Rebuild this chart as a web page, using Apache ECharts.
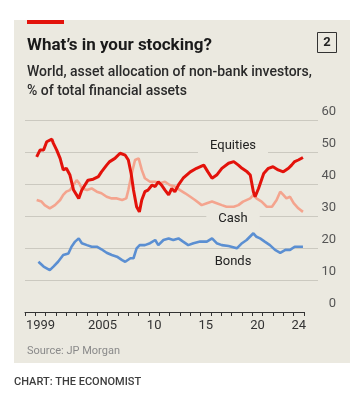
<!DOCTYPE html>
<html>
<head>
<meta charset="utf-8">
<script src="https://cdn.jsdelivr.net/npm/echarts@6/dist/echarts.min.js"></script>
<style>
html,body{margin:0;padding:0;background:#fff;}
#c{width:364px;height:404px;}
</style>
</head>
<body>
<div id="c"></div>
<script>
// ---- data ----
const yearCategories = ['1998','1999','2000','2001','2002','2003','2004','2005','2006','2007','2008','2009','2010','2011','2012','2013','2014','2015','2016','2017','2018','2019','2020','2021','2022','2023','2024'];
const tickYears  = ['1999','2005','2010','2015','2020','2024'];
const tickLabels = ['1999','2005','10','15','20','24'];
const yTicks = [0,10,20,30,40,50,60];

const equitiesYears = [1999.13,1999.45,1999.8,2000.1,2000.6,2000.75,2001.07,2001.4,2001.7,2002.0,2002.35,2002.7,2003.2,2003.5,2003.8,2004.1,2004.6,2005.1,2005.4,2005.9,2006.2,2006.7,2007.2,2007.7,2008.0,2008.27,2008.5,2008.8,2009.07,2009.3,2009.6,2009.9,2010.3,2010.6,2010.9,2011.2,2011.55,2011.9,2012.2,2012.5,2012.85,2013.3,2014.0,2014.6,2015.3,2015.7,2016.1,2016.55,2017.05,2017.7,2018.2,2018.65,2019.0,2019.5,2019.8,2020.1,2020.27,2020.6,2021.1,2021.55,2022.0,2022.5,2023.0,2023.5,2023.8,2024.1,2024.45,2024.9];
const equitiesValues = [48.5,50.6,50.6,53.2,54.0,52.7,50.6,48.0,44.4,44.9,42.8,38.1,35.5,38.1,39.7,41.2,41.5,42.3,43.8,45.9,47.0,48.0,49.6,49.0,47.5,43.3,38.1,32.9,31.3,35.0,37.6,38.1,39.7,39.2,40.7,39.7,38.1,36.6,38.6,37.6,39.7,41.8,43.8,44.9,45.9,43.8,41.8,42.8,44.9,46.5,47.0,45.9,44.9,43.8,42.8,37.6,36.0,38.6,43.3,44.9,45.4,44.4,43.8,44.9,45.9,47.0,47.5,48.3];

const cashYears = [1999.13,1999.6,1999.9,2000.4,2000.9,2001.4,2001.7,2002.0,2002.35,2002.7,2003.0,2003.25,2003.5,2004.0,2004.45,2004.95,2005.4,2005.9,2006.4,2006.9,2007.4,2007.8,2008.0,2008.33,2008.65,2009.0,2009.3,2009.6,2010.1,2010.6,2011.05,2011.55,2012.0,2012.5,2013.0,2013.5,2014.0,2014.45,2015.1,2015.6,2016.1,2016.55,2017.05,2017.5,2018.2,2018.65,2019.1,2019.8,2020.1,2020.4,2020.9,2021.4,2021.9,2022.35,2022.7,2023.0,2023.3,2023.65,2024.0,2024.45,2024.9];
const cashValues = [35.0,34.5,33.4,32.4,33.4,35.0,36.6,37.6,38.1,39.7,41.2,40.2,38.6,38.1,38.6,37.6,37.1,36.0,35.5,35.5,35.0,35.5,38.1,43.3,47.5,48.0,44.4,41.8,40.7,40.7,40.2,40.7,39.7,39.2,38.1,37.1,36.0,35.0,33.4,34.0,34.5,34.0,33.4,32.9,32.9,33.4,34.5,35.5,36.6,35.5,34.5,32.9,32.9,35.0,37.6,36.6,35.5,36.0,34.0,32.4,31.3];

const bondsYears = [1999.3,1999.8,2000.4,2000.75,2001.2,2001.7,2002.2,2002.5,2002.85,2003.2,2003.5,2004.0,2004.45,2004.95,2005.4,2005.9,2006.4,2006.9,2007.4,2007.7,2008.2,2008.5,2008.8,2009.1,2009.6,2010.1,2010.6,2010.9,2011.4,2011.9,2012.35,2012.85,2013.3,2013.8,2014.3,2014.95,2015.6,2016.1,2016.55,2017.05,2017.7,2018.5,2019.0,2019.45,2020.1,2020.4,2020.75,2021.2,2021.7,2022.2,2022.7,2023.2,2023.65,2024.1,2024.9];
const bondsValues = [15.7,14.2,13.1,14.2,15.7,17.8,18.3,20.4,22.0,23.0,21.5,20.9,20.4,20.4,19.6,18.5,17.8,17.3,16.2,15.7,16.8,16.8,19.9,20.9,20.9,21.5,22.5,20.9,22.5,23.0,22.5,23.0,22.0,20.9,21.5,22.0,22.0,23.0,21.5,20.9,20.6,19.9,21.5,22.5,24.6,23.5,23.0,22.0,20.9,19.4,18.5,19.4,19.4,20.4,20.4];

const seriesNames = ['Equities','Cash','Bonds'];

// ---- styling ----
const PANEL = '#ebe9e0';
const zip = (xs, ys) => xs.map((x, i) => [x, ys[i]]);
const FONT = 'Roboto, "Noto Sans", sans-serif';

const chart = echarts.init(document.getElementById('c'), null, {renderer: 'canvas'});

const option = {
  backgroundColor: '#ffffff',
  animation: false,
  grid: [
    {left: 25, right: 46, top: 120, height: 192, containLabel: false},
    {left: 25, width: 279, top: 120, height: 192, containLabel: false}
  ],
  xAxis: [
    {gridIndex: 0, type: 'value', min: 1998, max: 2026.36, show: false},
    {
      gridIndex: 1, type: 'category', data: yearCategories, boundaryGap: true,
      axisLine: {show: true, lineStyle: {color: '#333', width: 1}},
      axisTick: {show: true, interval: 0, length: 4, lineStyle: {color: '#333', width: 1}},
      axisLabel: {
        interval: (i, v) => tickYears.includes(v),
        formatter: v => tickLabels[tickYears.indexOf(v)],
        color: '#333', fontSize: 13, fontFamily: FONT, margin: 7
      },
      splitLine: {show: false}
    },
    {gridIndex: 1, type: 'value', min: 1998, max: 2025, show: false}
  ],
  yAxis: [
    {
      gridIndex: 0, type: 'value', min: 0, max: 60, interval: 10, position: 'right',
      axisLine: {show: false}, axisTick: {show: false},
      axisLabel: {
        color: '#555', fontSize: 13, fontFamily: FONT, margin: 18, align: 'right',
        verticalAlign: 'bottom', padding: [0, 0, 2, 0]
      },
      splitLine: {show: true, lineStyle: {color: ['rgba(0,0,0,0)','#cbc9c0','#cbc9c0','#cbc9c0','#cbc9c0','#cbc9c0','#cbc9c0'], width: 1}}
    },
    {gridIndex: 1, type: 'value', min: 0, max: 60, show: false}
  ],
  series: [
    {
      name: seriesNames[2], type: 'line', xAxisIndex: 2, yAxisIndex: 1,
      data: zip(bondsYears, bondsValues), showSymbol: false, smooth: false,
      lineStyle: {color: '#5b8fd2', width: 2.6}, z: 3
    },
    {
      name: seriesNames[1], type: 'line', xAxisIndex: 2, yAxisIndex: 1,
      data: zip(cashYears, cashValues), showSymbol: false,
      lineStyle: {color: '#f4a48e', width: 2.6}, z: 3
    },
    {
      name: seriesNames[0], type: 'line', xAxisIndex: 2, yAxisIndex: 1,
      data: zip(equitiesYears, equitiesValues), showSymbol: false,
      lineStyle: {color: '#e3120b', width: 3}, z: 4
    }
  ],
  graphic: [
    {type: 'rect', z: -10, silent: true, shape: {x: 14, y: 20, width: 336, height: 343}, style: {fill: PANEL}},
    {type: 'rect', z: 10, silent: true, shape: {x: 27, y: 20, width: 37, height: 4}, style: {fill: '#e3120b'}},
    {type: 'text', z: 10, x: 27, y: 46, style: {text: 'What\u2019s in your stocking?', font: 'bold 17px ' + FONT, fill: '#1a1a1a', verticalAlign: 'middle'}},
    {type: 'rect', z: 10, shape: {x: 317.5, y: 32.5, width: 19, height: 20}, style: {fill: 'none', stroke: '#333', lineWidth: 1}},
    {type: 'text', z: 10, x: 327, y: 43, style: {text: '2', font: 'bold 13px ' + FONT, fill: '#222', align: 'center', verticalAlign: 'middle'}},
    {type: 'text', z: 10, x: 27, y: 72, style: {text: 'World, asset allocation of non-bank investors,', font: '500 14px ' + FONT, fill: '#2a2a2a', verticalAlign: 'middle'}},
    {type: 'text', z: 10, x: 27, y: 91, style: {text: '% of total financial assets', font: '500 14px ' + FONT, fill: '#2a2a2a', verticalAlign: 'middle'}},
    {type: 'text', z: 10, x: 233, y: 146, style: {text: seriesNames[0], font: '13px ' + FONT, fill: '#222', align: 'center', verticalAlign: 'middle', backgroundColor: PANEL, padding: [2, 12]}},
    {type: 'text', z: 10, x: 233, y: 219, style: {text: seriesNames[1], font: '13px ' + FONT, fill: '#222', align: 'center', verticalAlign: 'middle', backgroundColor: PANEL, padding: [2, 12]}},
    {type: 'text', z: 10, x: 233, y: 262, style: {text: seriesNames[2], font: '13px ' + FONT, fill: '#222', align: 'center', verticalAlign: 'middle'}},
    {type: 'text', z: 10, x: 27, y: 351, style: {text: 'Source: JP Morgan', font: '11px ' + FONT, fill: '#8a8a8a', verticalAlign: 'middle'}},
    {type: 'text', z: 10, x: 14, y: 382, style: {text: 'CHART: THE ECONOMIST', font: '500 11px ' + FONT, fill: '#3d3d3d', verticalAlign: 'middle'}}
  ]
};
chart.setOption(option);
</script>
</body>
</html>
